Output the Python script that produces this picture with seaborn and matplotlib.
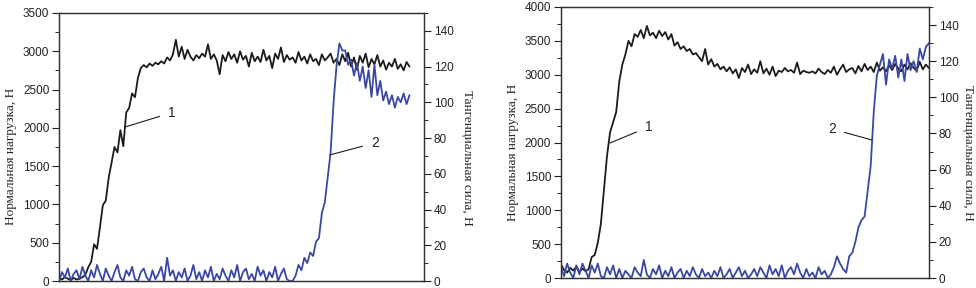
import numpy as np
import seaborn as sns
import matplotlib.pyplot as plt
from matplotlib.ticker import MultipleLocator

# curve 1 (normal load, N) and curve 2 (tangential force, N), sampled evenly in time
left_load = [40, 20, 50, 30, 10, 40, 20, 30, 50, 80,
             180, 250, 480, 420, 700, 990, 1050, 1350, 1550, 1750,
             1680, 1970, 1760, 2200, 2260, 2450, 2400, 2650, 2780, 2820,
             2790, 2840, 2810, 2850, 2830, 2870, 2840, 2920, 2880, 2960,
             3150, 2930, 3060, 2900, 3020, 2930, 2880, 2950, 2910, 2970,
             2930, 3090, 2900, 2960, 2880, 2700, 2950, 2870, 2990, 2900,
             2960, 2850, 3000, 2890, 2940, 2800, 2980, 2870, 2930, 2860,
             3020, 2880, 2940, 2780, 2970, 2900, 3050, 2860, 2950, 2890,
             2920, 2850, 2990, 2880, 2930, 2840, 2960, 2870, 2900, 2820,
             2960, 2880, 2920, 2970, 2850, 2900, 2820, 2960, 2870, 2980,
             2800, 2920, 2760, 2940, 2850, 2970, 2790, 2900, 2830, 2950,
             2800, 2880, 2760, 2850, 2800, 2900, 2770, 2830, 2750, 2860, 2800]
left_force = [0, 5, 2, 7, 0, 4, 6, 1, 8, 3,
              0, 6, 2, 9, 4, 0, 7, 3, 0, 5,
              9, 2, 0, 6, 3, 8, 1, 0, 5, 7,
              2, 0, 6, 1, 4, 8, 0, 13, 3, 6,
              0, 5, 2, 7, 0, 3, 9, 1, 5, 0,
              6, 2, 8, 0, 4, 1, 7, 3, 0, 6,
              2, 9, 0, 5, 7, 1, 4, 0, 8, 3,
              6, 0, 5, 2, 8, 0, 4, 7, 1, 0,
              0, 3, 9, 6, 13, 10, 16, 14, 22, 24,
              38, 44, 58, 72, 100, 120, 133, 129, 129, 121,
              124, 115, 122, 112, 120, 108, 118, 103, 121, 104,
              112, 101, 106, 99, 104, 97, 103, 100, 105, 99, 104]

right_load = [200, 120, 80, 150, 110, 170, 90, 140, 100, 130,
              310, 340, 520, 800, 1300, 1800, 2150, 2300, 2450, 2900,
              3150, 3300, 3500, 3420, 3600, 3560, 3660, 3540, 3720, 3580,
              3620, 3540, 3650, 3570, 3630, 3520, 3600, 3430, 3480, 3380,
              3420, 3350, 3380, 3300, 3320, 3260, 3200, 3380, 3150, 3230,
              3120, 3160, 3080, 3120, 3050, 3110, 3020, 3080, 2950, 3100,
              3040, 3150, 3010, 3080, 3030, 3200, 3020, 3090, 3000, 3120,
              2980, 3060, 3040, 3100, 3050, 3070, 3030, 3180, 3010, 3060,
              3040, 3030, 3050, 3020, 3090, 3040, 3010, 3070, 3030, 3120,
              3000, 3080, 3150, 3040, 3080, 3100, 3020, 3130, 3050, 3160,
              3070, 3120, 3040, 3180, 3060, 3110, 3050, 3140, 3070, 3160,
              3090, 3050, 3150, 3080, 3170, 3100, 3060, 3190, 3080, 3150, 3100]
right_force = [6, 1, 8, 3, 0, 7, 2, 8, 4, 0,
               7, 3, 8, 1, 0, 6, 2, 7, 0, 5,
               0, 4, 2, 0, 6, 3, 1, 10, 2, 0,
               5, 2, 7, 0, 4, 1, 6, 0, 3, 5,
               0, 4, 1, 6, 2, 0, 5, 1, 3, 0,
               4, 1, 6, 0, 2, 5, 0, 3, 6, 1,
               4, 0, 2, 5, 1, 6, 3, 0, 7, 2,
               5, 1, 7, 0, 4, 6, 2, 8, 3, 0,
               5, 1, 3, 0, 6, 2, 4, 0, 2, 6,
               12, 8, 5, 3, 12, 14, 20, 28, 32, 34,
               48, 62, 92, 112, 118, 124, 107, 121, 116, 123,
               111, 121, 109, 124, 115, 120, 114, 127, 121, 128, 130]

load_label = 'Нормальная нагрузка, Н'
force_label = 'Тангенциальная сила, Н'

sns.set_style('ticks')
plt.rcParams['font.family'] = ['Liberation Sans', 'DejaVu Sans']

black = '#1c1c1c'
blue = '#3a48a4'
serif = ['Liberation Serif', 'DejaVu Serif']

fig = plt.figure(figsize=(9.76, 2.88), dpi=100)

# rect, y max, x max, label "1" (point, text) on left axis, label "2" on right axis, right label pad
panels = [
    (left_load, left_force, [0.0605, 0.0243, 0.374, 0.9306], 3500, 125,
     (22.6, 2011, 38.7, 2200), (92.8, 70.6, 108.2, 77.3), 14),
    (right_load, right_force, [0.5748, 0.0347, 0.377, 0.941], 4000, 120,
     (16.0, 1993, 28.6, 2230), (101.4, 76.4, 88.4, 82.5), 11),
]

for load, force, rect, ymax, xmax, ann1, ann2, pad in panels:
    ax = fig.add_axes(rect)
    ax2 = ax.twinx()
    sns.lineplot(x=np.arange(len(load)), y=load, ax=ax, color=black, lw=1.3)
    sns.lineplot(x=np.arange(len(force)), y=force, ax=ax2, color=blue, lw=1.3)

    ax.set_xlim(0, xmax)
    ax.set_ylim(0, ymax)
    ax2.set_ylim(0, 150)
    ax.set_xticks([])
    ax.yaxis.set_major_locator(MultipleLocator(500))
    ax.yaxis.set_minor_locator(MultipleLocator(250))
    ax2.set_yticks([0, 20, 40, 60, 80, 100, 120, 140])
    ax2.yaxis.set_minor_locator(MultipleLocator(10))
    for a in (ax, ax2):
        a.tick_params(axis='y', which='major', length=5, width=0.8, labelsize=8.5,
                      colors='#222222', pad=2)
        a.tick_params(axis='y', which='minor', length=3, width=0.7)
        for s in a.spines.values():
            s.set_linewidth(0.9)
            s.set_color('#333333')
    ax.set_ylabel(load_label, family=serif, fontsize=9.5, labelpad=4)
    ax2.set_ylabel(force_label, family=serif, fontsize=9.5, rotation=270, labelpad=pad)
    ax.yaxis.label.set_y(0.465)
    ax2.yaxis.label.set_y(0.46)
    ax.set_xlabel('')

    x0, y0, tx, ty = ann1
    ax.annotate('1', xy=(x0, y0), xytext=(tx, ty), fontsize=10, ha='center', va='center',
                arrowprops=dict(arrowstyle='-', lw=0.8, color=black, shrinkA=4, shrinkB=0))
    x0, y0, tx, ty = ann2
    ax2.annotate('2', xy=(x0, y0), xytext=(tx, ty), fontsize=10, ha='center', va='center',
                 arrowprops=dict(arrowstyle='-', lw=0.8, color=black, shrinkA=4, shrinkB=0))

fig.savefig('out.png', dpi=100)
